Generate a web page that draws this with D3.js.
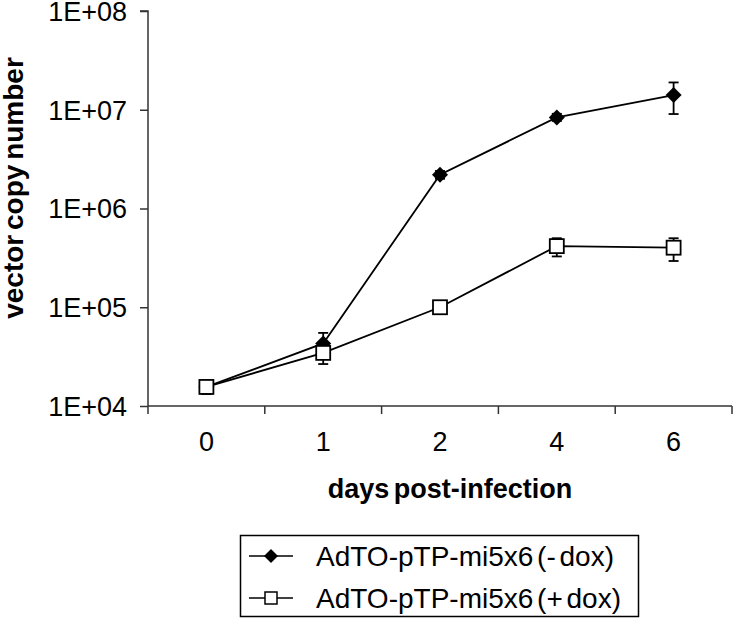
<!DOCTYPE html>
<html>
<head>
    <script src="https://cdn.jsdelivr.net/npm/d3@7"></script>
    <style>
        body { margin: 0; background: #fff; }
        text { font-family: Arial, "Liberation Sans", sans-serif; }
    </style>
</head>

<body>
<div id="chart"></div>

<script>

    var days = ['0', '1', '2', '4', '6'];

    // AdTO-pTP-mi5x6 (-dox)
    var minusDox = [15600, 43000, 2200000, 8360000, 14100000];
    var minusDoxLow = [14500, 33000, 2000000, 7700000, 9050000];
    var minusDoxHigh = [16700, 55000, 2400000, 9100000, 18900000];

    // AdTO-pTP-mi5x6 (+dox)
    var plusDox = [15600, 34500, 100000, 416000, 401000];
    var plusDoxLow = [13200, 26600, 87000, 327000, 294000];
    var plusDoxHigh = [16500, 42000, 108000, 500000, 500000];

    var yTicks = [1e4, 1e5, 1e6, 1e7, 1e8];
    var yTickLabels = ['1E+04', '1E+05', '1E+06', '1E+07', '1E+08'];

    var width = 733;
    var height = 618;
    var plot = { left: 148, right: 732, top: 11, bottom: 406 };
    var axisColor = '#333';

    var svg = d3.select('#chart').append('svg')
        .attr('width', width)
        .attr('height', height);

    var xScale = d3.scaleBand()
        .domain(days)
        .range([plot.left, plot.right])
        .padding(0);

    var yScale = d3.scaleLog()
        .domain([1e4, 1e8])
        .range([plot.bottom, plot.top]);

    var cx = function(d, i) { return xScale(days[i]) + xScale.bandwidth() / 2; };

    // y axis
    var yAxis = d3.axisLeft(yScale)
        .tickValues(yTicks)
        .tickFormat(function(d, i) { return yTickLabels[i]; })
        .tickSize(8)
        .tickPadding(13);

    var yg = svg.append('g')
        .attr('transform', 'translate(' + plot.left + ',0)')
        .call(yAxis);
    yg.selectAll('path, line').attr('stroke', axisColor).attr('stroke-width', 1.5);
    yg.select('.domain').attr('d', 'M-8,' + plot.top + 'H0V' + plot.bottom);
    yg.selectAll('text')
        .attr('font-size', 27)
        .attr('dy', '0.35em')
        .attr('fill', '#000')
        .style('font-family', 'Arial, "Liberation Sans", sans-serif');

    // x axis: labels centred in bands, ticks between categories
    var xAxis = d3.axisBottom(xScale).tickSize(0).tickPadding(26);
    var xg = svg.append('g')
        .attr('transform', 'translate(0,' + plot.bottom + ')')
        .call(xAxis);
    xg.select('.domain').attr('stroke', axisColor).attr('stroke-width', 1.5)
        .attr('d', 'M' + plot.left + ',0H' + plot.right);
    xg.selectAll('text')
        .attr('font-size', 27)
        .attr('fill', '#000')
        .style('font-family', 'Arial, "Liberation Sans", sans-serif');

    var edges = days.map(function(d) { return xScale(d); }).concat([xScale.range()[1]]);
    xg.selectAll('line.edge')
        .data(edges)
        .enter()
        .append('line')
        .attr('class', 'edge')
        .attr('x1', function(d) { return d; })
        .attr('x2', function(d) { return d; })
        .attr('y1', 0)
        .attr('y2', 8)
        .attr('stroke', axisColor)
        .attr('stroke-width', 1.5);

    // axis titles
    svg.append('text')
        .attr('transform', 'translate(23,188) rotate(-90)')
        .attr('text-anchor', 'middle')
        .attr('font-size', 28)
        .attr('font-weight', 'bold')
        .attr('word-spacing', -3)
        .text('vector copy number');

    svg.append('text')
        .attr('x', 450)
        .attr('y', 498)
        .attr('text-anchor', 'middle')
        .attr('font-size', 27)
        .attr('font-weight', 'bold')
        .attr('word-spacing', -3)
        .text('days post-infection');

    var line = d3.line()
        .x(cx)
        .y(function(d) { return yScale(d); });

    function drawSeries(values, low, high) {
        var g = svg.append('g');
        g.append('path')
            .datum(values)
            .attr('d', line)
            .attr('fill', 'none')
            .attr('stroke', '#000')
            .attr('stroke-width', 1.8);

        var err = g.selectAll('g.err')
            .data(values)
            .enter()
            .append('g')
            .attr('class', 'err')
            .attr('stroke', '#000')
            .attr('stroke-width', 1.8);
        err.append('line')
            .attr('x1', cx).attr('x2', cx)
            .attr('y1', function(d, i) { return yScale(low[i]); })
            .attr('y2', function(d, i) { return yScale(high[i]); });
        err.append('line')
            .attr('x1', function(d, i) { return cx(d, i) - 5; })
            .attr('x2', function(d, i) { return cx(d, i) + 5; })
            .attr('y1', function(d, i) { return yScale(low[i]); })
            .attr('y2', function(d, i) { return yScale(low[i]); });
        err.append('line')
            .attr('x1', function(d, i) { return cx(d, i) - 5; })
            .attr('x2', function(d, i) { return cx(d, i) + 5; })
            .attr('y1', function(d, i) { return yScale(high[i]); })
            .attr('y2', function(d, i) { return yScale(high[i]); });
        return g;
    }

    var g1 = drawSeries(minusDox, minusDoxLow, minusDoxHigh);
    g1.selectAll('path.mark')
        .data(minusDox)
        .enter()
        .append('path')
        .attr('class', 'mark')
        .attr('d', 'M0,-8L8,0L0,8L-8,0Z')
        .attr('transform', function(d, i) { return 'translate(' + cx(d, i) + ',' + yScale(d) + ')'; })
        .attr('fill', '#000');

    var g2 = drawSeries(plusDox, plusDoxLow, plusDoxHigh);
    g2.selectAll('rect.mark')
        .data(plusDox)
        .enter()
        .append('rect')
        .attr('class', 'mark')
        .attr('x', function(d, i) { return cx(d, i) - 7; })
        .attr('y', function(d) { return yScale(d) - 7; })
        .attr('width', 14)
        .attr('height', 14)
        .attr('fill', '#fff')
        .attr('stroke', '#000')
        .attr('stroke-width', 1.8);

    // legend
    var legend = svg.append('g');
    legend.append('rect')
        .attr('x', 240.5).attr('y', 535.5)
        .attr('width', 398).attr('height', 81)
        .attr('fill', '#fff')
        .attr('stroke', '#000')
        .attr('stroke-width', 1.5);

    var legendNames = ['AdTO-pTP-mi5x6 (- dox)', 'AdTO-pTP-mi5x6 (+ dox)'];
    var rows = legend.selectAll('g.row')
        .data(legendNames)
        .enter()
        .append('g')
        .attr('class', 'row')
        .attr('transform', function(d, i) { return 'translate(0,' + (556 + i * 42) + ')'; });
    rows.append('line')
        .attr('x1', 249).attr('x2', 293)
        .attr('stroke', '#000').attr('stroke-width', 1.5);
    rows.filter(function(d, i) { return i === 0; })
        .append('path')
        .attr('d', 'M271,-7L278,0L271,7L264,0Z')
        .attr('fill', '#000');
    rows.filter(function(d, i) { return i === 1; })
        .append('rect')
        .attr('x', 265).attr('y', -6).attr('width', 12).attr('height', 12)
        .attr('fill', '#fff').attr('stroke', '#000').attr('stroke-width', 1.5);
    rows.append('text')
        .attr('x', 316)
        .attr('y', 10)
        .attr('font-size', 28)
        .attr('word-spacing', -4)
        .text(function(d) { return d; });

</script>
</body>
</html>
